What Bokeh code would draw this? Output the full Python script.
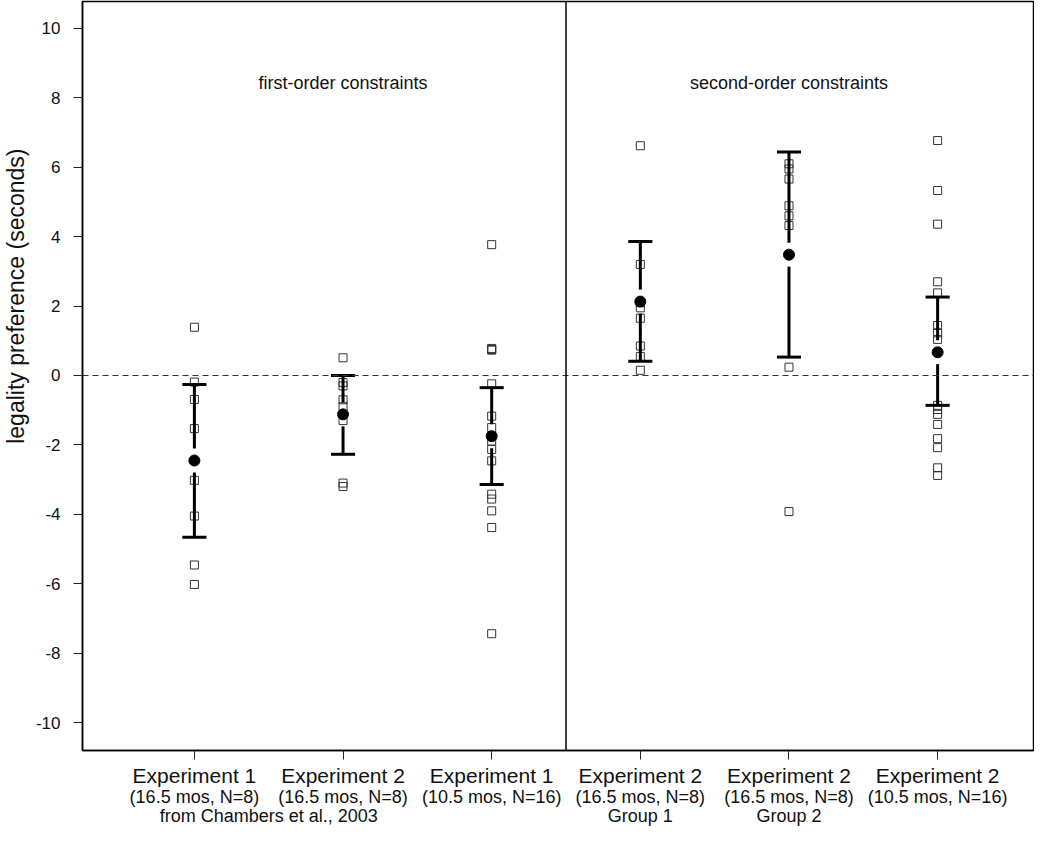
from bokeh.plotting import figure
from bokeh.models import Span, Label, FixedTicker, Range1d, LinearAxis, Title
from bokeh.embed import file_html
from bokeh.resources import INLINE

# ---- data ----
positions = [1, 2, 3, 4, 5, 6]
exp_labels = ["Experiment 1", "Experiment 2", "Experiment 1",
              "Experiment 2", "Experiment 2", "Experiment 2"]
sub_labels = ["(16.5 mos, N=8)", "(16.5 mos, N=8)", "(10.5 mos, N=16)",
              "(16.5 mos, N=8)", "(16.5 mos, N=8)", "(10.5 mos, N=16)"]
third_pos = [1.5, 4, 5]
third_labels = ["from Chambers et al., 2003", "Group 1", "Group 2"]
panel_titles = ["first-order constraints", "second-order constraints"]
panel_title_pos = [2, 5]
panel_title_y = 8.42
panel_divider = 3.5

g1 = [1.39, -0.19, -0.69, -1.53, -3.02, -4.05, -5.46, -6.02]
g2 = [0.51, -0.20, -0.30, -0.70, -0.90, -1.30, -3.10, -3.20]
g3 = [3.77, 0.78, 0.75, 0.73, -0.24, -1.17, -1.50, -1.75, -1.89, -2.13,
      -2.46, -3.42, -3.56, -3.90, -4.38, -7.44]
g4 = [6.62, 3.20, 2.10, 1.95, 1.65, 0.85, 0.55, 0.15]
g5 = [6.10, 5.95, 5.66, 4.89, 4.60, 4.32, 0.24, -3.92]
g6 = [6.77, 5.33, 4.36, 2.70, 2.38, 1.44, 1.23, 1.04, -0.86, -0.98,
      -1.12, -1.41, -1.82, -2.08, -2.66, -2.88]
groups = [g1, g2, g3, g4, g5, g6]

means = [-2.45, -1.12, -1.75, 2.13, 3.48, 0.67]
ci_low = [-4.66, -2.27, -3.14, 0.41, 0.53, -0.86]
ci_high = [-0.26, 0.00, -0.35, 3.86, 6.44, 2.26]

y_ticks = list(range(-10, 11, 2))
y_title = "legality preference (seconds)"

# ---- figure ----
FONT = "Liberation Sans"
TXT = "#111111"
p = figure(width=1034, height=828, output_backend="svg", toolbar_location=None,
           x_range=Range1d(0.2473, 6.645), y_range=Range1d(-10.805, 10.776),
           min_border_left=81, min_border_right=1, min_border_top=1,
           min_border_bottom=76)
p.xgrid.visible = False
p.ygrid.visible = False
p.outline_line_color = "black"
p.outline_line_width = 1.5
p.background_fill_color = "white"
p.border_fill_color = "white"

# y axis
p.yaxis.ticker = FixedTicker(ticks=y_ticks)
p.yaxis.major_label_overrides = {t: str(t) for t in y_ticks}
p.yaxis.major_tick_out = 9
p.yaxis.major_tick_in = 0
p.yaxis.minor_tick_out = 0
p.yaxis.minor_tick_in = 0
p.yaxis.axis_line_color = "black"
p.yaxis.axis_line_width = 1.5
p.yaxis.major_tick_line_color = "#222222"
p.yaxis.major_label_standoff = 13
p.yaxis.major_label_text_font = FONT
p.yaxis.major_label_text_font_size = "17px"
p.yaxis.major_label_text_color = TXT

# y title on the left, placed toward the top like the reference
p.add_layout(Title(text=y_title, align="right", offset=147,
                   vertical_align="top", standoff=4,
                   text_font=FONT, text_font_size="23px",
                   text_font_style="normal", text_color=TXT), "left")

# x axis (first label row)
p.xaxis.ticker = FixedTicker(ticks=positions)
p.xaxis.major_label_overrides = {pos: lab for pos, lab in zip(positions, exp_labels)}
p.xaxis.major_tick_out = 9
p.xaxis.major_tick_in = 0
p.xaxis.minor_tick_out = 0
p.xaxis.minor_tick_in = 0
p.xaxis.axis_line_color = "black"
p.xaxis.axis_line_width = 1.5
p.xaxis.major_tick_line_color = "#222222"
p.xaxis.major_label_standoff = 4
p.xaxis.major_label_text_font = FONT
p.xaxis.major_label_text_font_size = "21px"
p.xaxis.major_label_text_color = TXT

# second label row
ax2 = LinearAxis(ticker=FixedTicker(ticks=positions),
                 major_label_overrides={pos: s for pos, s in zip(positions, sub_labels)},
                 axis_line_color=None, major_tick_line_color=None,
                 minor_tick_line_color=None, major_tick_out=0, major_tick_in=0,
                 minor_tick_out=0, minor_tick_in=0, major_label_standoff=-3,
                 major_label_text_font=FONT, major_label_text_font_size="18px",
                 major_label_text_color=TXT)
p.add_layout(ax2, "below")

# third label row
ax3 = LinearAxis(ticker=FixedTicker(ticks=third_pos),
                 major_label_overrides={pos: s for pos, s in zip(third_pos, third_labels)},
                 axis_line_color=None, major_tick_line_color=None,
                 minor_tick_line_color=None, major_tick_out=0, major_tick_in=0,
                 minor_tick_out=0, minor_tick_in=0, major_label_standoff=-4,
                 major_label_text_font=FONT, major_label_text_font_size="18px",
                 major_label_text_color=TXT)
p.add_layout(ax3, "below")

# reference lines
p.add_layout(Span(location=0, dimension="width", line_color="#333333",
                  line_width=1.2, line_dash="6 4"))
p.add_layout(Span(location=panel_divider, dimension="height",
                  line_color="black", line_width=1.5))

# individual points
xs, ys = [], []
for pos, g in zip(positions, groups):
    xs.extend([pos] * len(g))
    ys.extend(g)
p.scatter(xs, ys, marker="square", size=8, fill_color=None,
          line_color="#333333", line_width=1)

# error bars with a gap around the mean
gap = 0.345
half_w = 0.081
up_y0 = [m + gap for m in means]
up_keep = [i for i in range(6) if ci_high[i] > up_y0[i]]
p.segment([positions[i] for i in up_keep], [ci_high[i] for i in up_keep],
          [positions[i] for i in up_keep], [up_y0[i] for i in up_keep],
          line_color="black", line_width=3)
lo_y0 = [m - gap for m in means]
lo_keep = [i for i in range(6) if ci_low[i] < lo_y0[i]]
p.segment([positions[i] for i in lo_keep], [lo_y0[i] for i in lo_keep],
          [positions[i] for i in lo_keep], [ci_low[i] for i in lo_keep],
          line_color="black", line_width=3)
p.segment([x - half_w for x in positions], ci_high,
          [x + half_w for x in positions], ci_high,
          line_color="black", line_width=3)
p.segment([x - half_w for x in positions], ci_low,
          [x + half_w for x in positions], ci_low,
          line_color="black", line_width=3)

# means
p.scatter(positions, means, marker="circle", size=11, fill_color="black",
          line_color="black")

# panel titles
for t, xpos in zip(panel_titles, panel_title_pos):
    p.add_layout(Label(x=xpos, y=panel_title_y, text=t, text_align="center",
                       text_baseline="middle", text_font=FONT,
                       text_font_size="18px", text_color=TXT))

open("out.html", "w").write(file_html(p, INLINE))
